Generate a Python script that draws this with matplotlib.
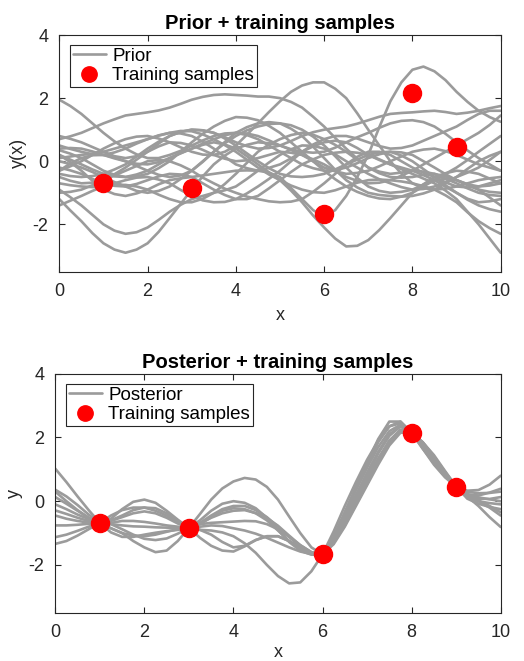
import matplotlib
matplotlib.use("Agg")
import matplotlib.pyplot as plt
import numpy as np

plt.rcParams["font.family"] = ["Liberation Sans", "DejaVu Sans"]
plt.rcParams["axes.unicode_minus"] = False

# sample grid of the drawn functions
x_grid = np.arange(0, 10.01, 0.25)

# training samples
x_train = [1, 3, 6, 8, 9]
y_train = [-0.68, -0.84, -1.67, 2.15, 0.46]

# prior draws (values at x_grid)
prior = [
    [1.95, 1.75, 1.5, 1.2, 0.9, 0.63, 0.4, 0.22, 0.1, 0.1, 0.2, 0.33, 0.5, 0.66, 0.8, 0.88, 0.9, 0.83, 0.7, 0.5,
     0.3, 0.1, -0.1, -0.22, -0.3, -0.28, -0.2, -0.06, 0.1, 0.22, 0.3, 0.28, 0.2, 0.0, -0.2, -0.41, -0.6, -0.73, -0.8, -0.77, -0.7],
    [0.7, 0.79, 0.9, 1.05, 1.2, 1.33, 1.45, 1.5, 1.55, 1.61, 1.7, 1.82, 1.95, 2.04, 2.1, 2.12, 2.1, 2.08, 2.05, 2.05,
     2.0, 1.88, 1.7, 1.41, 1.1, 0.74, 0.4, 0.08, -0.2, -0.38, -0.5, -0.52, -0.5, -0.43, -0.4, -0.48, -0.6, -0.76, -0.9, -0.97, -1.0],
    [-0.3, -0.16, 0.0, 0.2, 0.4, 0.57, 0.7, 0.78, 0.8, 0.72, 0.6, 0.44, 0.3, 0.21, 0.2, 0.3, 0.5, 0.84, 1.2, 1.56,
     1.9, 2.2, 2.4, 2.5, 2.5, 2.3, 2.0, 1.52, 1.0, 0.5, 0.0, -0.39, -0.7, -0.85, -0.9, -0.87, -0.8, -0.7, -0.6, -0.54, -0.5],
    [0.5, 0.39, 0.3, 0.22, 0.2, 0.28, 0.4, 0.56, 0.7, 0.82, 0.9, 0.88, 0.8, 0.62, 0.4, 0.14, -0.1, -0.22, -0.3, -0.36,
     -0.5, -0.85, -1.2, -1.55, -1.75, -1.55, -1.1, -0.5, 0.2, 1.08, 1.9, 2.5, 2.9, 3.0, 2.85, 2.57, 2.2, 1.88, 1.6, 1.4, 1.25],
    [0.2, 0.05, -0.1, -0.26, -0.4, -0.48, -0.5, -0.42, -0.3, -0.1, 0.1, 0.26, 0.4, 0.52, 0.6, 0.53, 0.4, 0.16, -0.1, -0.35,
     -0.6, -0.93, -1.3, -1.72, -2.1, -2.45, -2.7, -2.68, -2.5, -2.18, -1.8, -1.4, -1.0, -0.73, -0.5, -0.38, -0.3, -0.33, -0.4, -0.55, -0.7],
    [-1.2, -1.56, -1.9, -2.28, -2.6, -2.8, -2.9, -2.8, -2.6, -2.24, -1.8, -1.35, -0.9, -0.48, -0.1, 0.18, 0.4, 0.52, 0.6, 0.57,
     0.5, 0.36, 0.2, 0.0, -0.2, -0.32, -0.4, -0.37, -0.3, -0.16, 0.0, 0.15, 0.3, 0.37, 0.4, 0.32, 0.2, 0.05, -0.1, -0.2, -0.3],
    [-0.9, -1.14, -1.4, -1.7, -2.0, -2.2, -2.3, -2.25, -2.1, -1.86, -1.6, -1.38, -1.2, -1.1, -1.0, -0.92, -0.8, -0.56, -0.3, -0.04,
     0.2, 0.38, 0.5, 0.49, 0.4, 0.22, 0.0, -0.2, -0.4, -0.57, -0.7, -0.82, -0.9, -0.88, -0.8, -0.66, -0.5, -0.36, -0.2, 0.04, 0.3],
    [0.8, 0.71, 0.6, 0.45, 0.3, 0.16, 0.1, 0.16, 0.3, 0.56, 0.8, 0.93, 1.0, 0.98, 0.9, 0.76, 0.6, 0.48, 0.4, 0.42,
     0.5, 0.64, 0.8, 0.92, 1.0, 1.05, 1.1, 1.19, 1.3, 1.41, 1.5, 1.53, 1.55, 1.58, 1.6, 1.56, 1.5, 1.54, 1.6, 1.68, 1.75],
    [0.35, 0.24, 0.1, -0.1, -0.3, -0.43, -0.5, -0.48, -0.4, -0.22, 0.0, 0.3, 0.6, 0.87, 1.1, 1.28, 1.4, 1.38, 1.3, 1.12,
     0.9, 0.6, 0.3, 0.0, -0.3, -0.57, -0.8, -0.97, -1.1, -1.18, -1.2, -1.12, -1.0, -0.8, -0.6, -0.4, -0.2, 0.04, 0.3, 0.55, 0.8],
    [-0.5, -0.62, -0.7, -0.68, -0.6, -0.41, -0.2, 0.05, 0.3, 0.47, 0.6, 0.58, 0.5, 0.36, 0.2, 0.08, 0.0, 0.03, 0.1, 0.2,
     0.3, 0.27, 0.2, 0.06, -0.1, -0.3, -0.5, -0.62, -0.7, -0.68, -0.6, -0.46, -0.3, -0.1, 0.1, 0.3, 0.5, 0.7, 0.9, 1.15, 1.45],
    [-0.2, -0.29, -0.4, -0.56, -0.7, -0.78, -0.8, -0.72, -0.6, -0.48, -0.4, -0.42, -0.5, -0.7, -0.9, -1.07, -1.2, -1.2, -1.1, -0.86,
     -0.6, -0.34, -0.1, 0.06, 0.2, 0.27, 0.3, 0.27, 0.2, 0.06, -0.1, -0.25, -0.4, -0.55, -0.7, -0.93, -1.2, -1.6, -2.0, -2.45, -2.9],
    [0.1, 0.15, 0.2, 0.24, 0.3, 0.4, 0.5, 0.6, 0.7, 0.81, 0.9, 0.96, 0.95, 0.85, 0.7, 0.51, 0.3, 0.05, -0.2, -0.42,
     -0.6, -0.77, -0.9, -0.98, -1.0, -0.92, -0.8, -0.68, -0.6, -0.58, -0.6, -0.64, -0.7, -0.79, -0.9, -1.08, -1.3, -1.62, -1.9, -2.12, -2.3],
    [-0.7, -0.76, -0.8, -0.82, -0.8, -0.7, -0.6, -0.52, -0.5, -0.58, -0.7, -0.91, -1.1, -1.24, -1.3, -1.29, -1.2, -1.02, -0.8, -0.56,
     -0.3, 0.0, 0.3, 0.53, 0.7, 0.8, 0.8, 0.72, 0.6, 0.48, 0.4, 0.42, 0.5, 0.65, 0.8, 0.95, 1.1, 1.31, 1.5, 1.6, 1.6],
    [-1.4, -1.25, -1.1, -0.94, -0.8, -0.75, -0.75, -0.8, -0.9, -1.06, -1.2, -1.3, -1.3, -1.19, -1.0, -0.72, -0.4, -0.05, 0.3, 0.53,
     0.7, 0.83, 0.9, 0.84, 0.7, 0.52, 0.3, 0.05, -0.2, -0.33, -0.4, -0.36, -0.3, -0.33, -0.4, -0.55, -0.7, -0.86, -1.0, -1.07, -1.1],
    [0.0, -0.09, -0.2, -0.34, -0.5, -0.66, -0.8, -0.94, -1.0, -0.94, -0.8, -0.56, -0.3, 0.0, 0.3, 0.57, 0.8, 0.98, 1.1, 1.18,
     1.2, 1.14, 1.0, 0.78, 0.5, 0.16, -0.2, -0.53, -0.8, -0.94, -1.0, -0.97, -0.9, -0.74, -0.6, -0.56, -0.6, -0.73, -0.9, -1.15, -1.4],
    [-0.4, -0.47, -0.5, -0.47, -0.4, -0.26, -0.1, 0.15, 0.4, 0.62, 0.8, 0.93, 1.0, 0.98, 0.9, 0.72, 0.5, 0.25, 0.0, -0.22,
     -0.4, -0.48, -0.5, -0.47, -0.4, -0.26, -0.1, 0.05, 0.2, 0.28, 0.3, 0.18, 0.0, -0.25, -0.5, -0.76, -1.0, -1.22, -1.4, -1.52, -1.6],
    [-0.3, -0.07, 0.1, 0.19, 0.2, 0.12, 0.0, -0.15, -0.3, -0.43, -0.5, -0.45, -0.3, -0.02, 0.3, 0.61, 0.9, 1.08, 1.2, 1.24,
     1.2, 1.03, 0.8, 0.46, 0.1, -0.27, -0.6, -0.83, -1.0, -1.07, -1.1, -1.12, -1.1, -1.02, -0.9, -0.7, -0.5, -0.24, 0.0, 0.17, 0.3],
    [0.2, -0.03, -0.3, -0.62, -0.9, -1.04, -1.1, -1.02, -0.9, -0.73, -0.6, -0.54, -0.5, -0.45, -0.4, -0.35, -0.3, -0.29, -0.3, -0.21,
     -0.1, 0.09, 0.3, 0.47, 0.6, 0.65, 0.6, 0.42, 0.2, 0.04, -0.1, -0.2, -0.3, -0.44, -0.6, -0.81, -1.0, -1.19, -1.3, -1.27, -1.2],
    [-1.0, -0.97, -0.9, -0.76, -0.6, -0.45, -0.3, -0.15, 0.0, 0.04, 0.0, -0.13, -0.3, -0.52, -0.7, -0.87, -1.0, -1.12, -1.2, -1.27,
     -1.3, -1.28, -1.2, -0.97, -0.7, -0.4, -0.1, 0.14, 0.3, 0.3, 0.2, 0.0, -0.2, -0.36, -0.5, -0.67, -0.8, -0.83, -0.8, -0.7, -0.6],
    [0.4, 0.42, 0.4, 0.31, 0.2, 0.09, 0.0, -0.08, -0.1, -0.03, 0.1, 0.25, 0.4, 0.56, 0.7, 0.82, 0.9, 0.88, 0.8, 0.66,
     0.5, 0.38, 0.3, 0.27, 0.3, 0.43, 0.6, 0.76, 0.9, 1.06, 1.2, 1.28, 1.3, 1.24, 1.1, 0.87, 0.6, 0.34, 0.1, -0.1, -0.3],
]

# posterior draws (values at x_grid)
posterior = [
    [1.02, 0.6, 0.15, -0.28, -0.68, -0.98, -1.12, -1.12, -1.05, -0.99, -0.94, -0.9, -0.84, -0.7, -0.52, -0.38, -0.3, -0.28, -0.37, -0.53,
     -0.77, -1.08, -1.38, -1.6, -1.67, -1.3, -0.6, 0.1, 0.8, 1.5, 2.05, 2.35, 2.15, 1.75, 1.3, 0.87, 0.46, 0.18, 0.02, -0.15, -0.35],
    [0.36, 0.15, -0.12, -0.42, -0.68, -0.85, -1.0, -1.25, -1.45, -1.6, -1.55, -1.25, -0.84, -0.4, 0.05, 0.4, 0.62, 0.73, 0.68, 0.45,
     0.05, -0.48, -1.0, -1.45, -1.67, -1.15, -0.35, 0.45, 1.2, 1.95, 2.5, 2.5, 2.15, 1.65, 1.15, 0.75, 0.46, 0.33, 0.35, 0.52, 0.8],
    [0.13, -0.08, -0.3, -0.52, -0.68, -0.55, -0.25, -0.02, 0.05, -0.05, -0.3, -0.58, -0.84, -1.15, -1.4, -1.55, -1.58, -1.42, -1.22, -1.1,
     -1.1, -1.25, -1.45, -1.62, -1.67, -1.3, -0.7, 0.0, 0.7, 1.35, 1.9, 2.2, 2.15, 1.8, 1.35, 0.9, 0.46, 0.22, 0.18, 0.27, 0.39],
    [-0.29, -0.4, -0.52, -0.62, -0.68, -0.62, -0.5, -0.38, -0.32, -0.38, -0.52, -0.7, -0.84, -0.9, -0.92, -0.98, -1.1, -1.32, -1.62, -2.0,
     -2.35, -2.58, -2.55, -2.2, -1.67, -0.95, -0.15, 0.6, 1.3, 1.9, 2.35, 2.45, 2.15, 1.7, 1.2, 0.78, 0.46, 0.15, -0.15, -0.5, -0.81],
    [-0.45, -0.55, -0.62, -0.67, -0.68, -0.72, -0.76, -0.79, -0.8, -0.82, -0.83, -0.84, -0.84, -0.68, -0.45, -0.25, -0.15, -0.15, -0.28, -0.5,
     -0.8, -1.12, -1.42, -1.62, -1.67, -1.15, -0.4, 0.35, 1.05, 1.7, 2.2, 2.4, 2.15, 1.75, 1.3, 0.85, 0.46, 0.2, 0.08, 0.07, 0.13],
    [-0.76, -0.76, -0.74, -0.71, -0.68, -0.6, -0.45, -0.28, -0.2, -0.22, -0.38, -0.62, -0.84, -0.72, -0.5, -0.3, -0.22, -0.25, -0.38, -0.6,
     -0.92, -1.25, -1.5, -1.65, -1.67, -1.35, -0.8, -0.15, 0.5, 1.15, 1.75, 2.15, 2.15, 1.85, 1.4, 0.92, 0.46, 0.15, 0.0, -0.06, -0.1],
    [-1.13, -1.05, -0.93, -0.8, -0.68, -0.72, -0.88, -1.05, -1.18, -1.22, -1.17, -1.02, -0.84, -0.72, -0.68, -0.66, -0.64, -0.62, -0.63, -0.72,
     -0.88, -1.12, -1.38, -1.6, -1.67, -1.2, -0.5, 0.2, 0.9, 1.55, 2.1, 2.35, 2.15, 1.78, 1.35, 0.88, 0.46, 0.2, 0.12, 0.06, 0.0],
    [-1.34, -1.25, -1.08, -0.88, -0.68, -0.45, -0.28, -0.2, -0.2, -0.3, -0.45, -0.65, -0.84, -0.6, -0.3, -0.08, 0.0, -0.05, -0.22, -0.52,
     -0.9, -1.28, -1.55, -1.68, -1.67, -1.3, -0.65, 0.0, 0.6, 1.25, 1.85, 2.2, 2.15, 1.85, 1.45, 0.95, 0.46, 0.08, -0.08, -0.18, -0.25],
    [0.3, 0.0, -0.28, -0.52, -0.68, -0.68, -0.62, -0.62, -0.65, -0.7, -0.76, -0.8, -0.84, -0.8, -0.76, -0.78, -0.85, -0.92, -1.02, -1.15,
     -1.3, -1.45, -1.58, -1.66, -1.67, -1.1, -0.35, 0.4, 1.15, 1.85, 2.35, 2.5, 2.15, 1.65, 1.2, 0.8, 0.46, 0.3, 0.25, 0.26, 0.3],
    [-0.1, -0.25, -0.42, -0.56, -0.68, -0.85, -1.0, -1.08, -1.1, -1.05, -0.96, -0.88, -0.84, -0.9, -1.05, -1.28, -1.45, -1.4, -1.22, -1.1,
     -1.1, -1.25, -1.48, -1.64, -1.67, -1.3, -0.75, -0.1, 0.55, 1.25, 1.9, 2.25, 2.15, 1.85, 1.4, 0.9, 0.46, 0.15, 0.0, -0.2, -0.45],
]

GRAY = "#9b9b9b"
DARK = "#262626"


def style_axes(ax):
    ax.set_xlim(0, 10)
    ax.set_ylim(-3.5, 4)
    ax.set_xticks([0, 2, 4, 6, 8, 10])
    ax.set_yticks([-2, 0, 2, 4])
    ax.tick_params(direction="in", length=4, width=0.8, top=True, right=True,
                   labelsize=13, colors=DARK, pad=8)
    for s in ax.spines.values():
        s.set_color(DARK)
        s.set_linewidth(0.8)


def panel(ax, draws, name, title, ylabel, xpad):
    for i, d in enumerate(draws):
        ax.plot(x_grid, d, color=GRAY, lw=1.9, solid_joinstyle="round",
                solid_capstyle="round", label=name if i == 0 else None, zorder=2)
    ax.plot(x_train, y_train, "o", color="red", ms=13, label="Training samples",
            zorder=3)
    style_axes(ax)
    ax.set_title(title, fontsize=14.5, fontweight="bold", pad=4)
    ax.set_xlabel("x", fontsize=13, color=DARK, labelpad=xpad)
    ax.set_ylabel(ylabel, fontsize=13, color=DARK, labelpad=4)
    leg = ax.legend(loc="upper left", bbox_to_anchor=(0.024, 0.958), borderaxespad=0,
                    fontsize=13.5, fancybox=False, framealpha=1, edgecolor=DARK,
                    handlelength=1.75, handletextpad=0.35, labelspacing=0.12,
                    borderpad=0.15, markerscale=0.85)
    leg.get_frame().set_linewidth(0.8)


fig = plt.figure(figsize=(5.24, 6.61), dpi=100)
ax1 = fig.add_axes([0.1132, 0.589, 0.8423, 0.358])
ax2 = fig.add_axes([0.1055, 0.0731, 0.850, 0.3614])

panel(ax1, prior, "Prior", "Prior + training samples", "y(x)", 5)
panel(ax2, posterior, "Posterior", "Posterior + training samples", "y", 2)

fig.savefig("out.png", dpi=100)
